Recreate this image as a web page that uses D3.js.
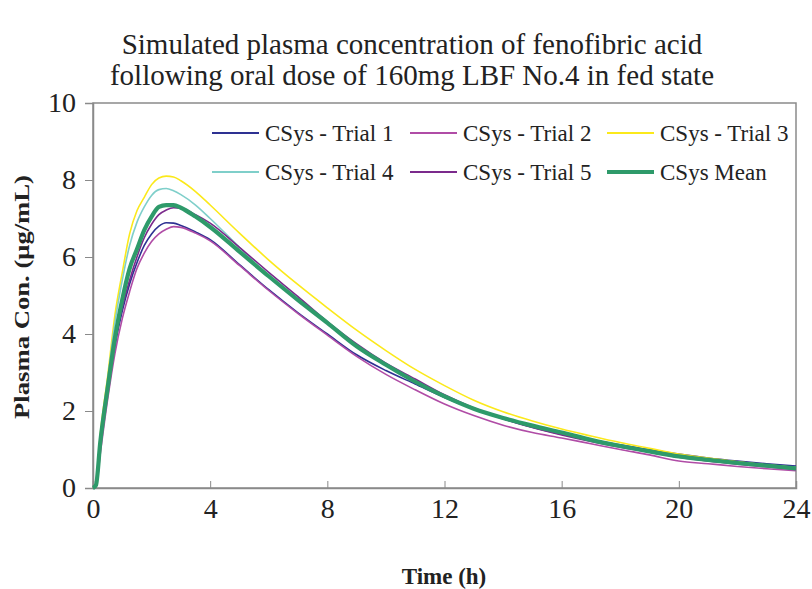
<!DOCTYPE html>
<html><head><meta charset="utf-8">
<script src="https://cdn.jsdelivr.net/npm/d3@7/dist/d3.min.js"></script>
<style>body{margin:0;background:#fff}svg{display:block}</style>
</head><body><svg id="c" width="812" height="589"></svg>
<script>
const times = [0,0.1,0.25,0.5,0.75,1,1.25,1.5,1.75,2,2.25,2.5,2.75,3,3.5,4,5,6,7,8,9,10,11,12,13,14,15,16,17,18,19,20,21,22,23,24];
const trial1 = [0,0.05,1.1,2.5,3.7,4.6,5.3,5.85,6.3,6.6,6.8,6.89,6.88,6.82,6.65,6.45,5.8,5.15,4.55,4.0,3.46,3.05,2.7,2.35,2.05,1.8,1.58,1.4,1.25,1.12,0.99,0.88,0.78,0.7,0.63,0.57];
const trial2 = [0,0.03,0.9,2.3,3.5,4.4,5.1,5.7,6.1,6.4,6.6,6.72,6.79,6.77,6.62,6.42,5.78,5.13,4.53,3.97,3.42,2.95,2.55,2.18,1.88,1.63,1.44,1.3,1.15,1.0,0.86,0.7,0.63,0.56,0.5,0.45];
const trial3 = [0,0.1,1.4,2.9,4.5,5.6,6.6,7.2,7.55,7.88,8.05,8.1,8.08,7.98,7.7,7.35,6.62,5.92,5.28,4.68,4.1,3.57,3.08,2.66,2.28,1.98,1.74,1.53,1.35,1.18,1.03,0.88,0.78,0.68,0.6,0.53];
const trial4 = [0,0.1,1.3,2.8,4.3,5.4,6.3,6.9,7.3,7.6,7.75,7.78,7.72,7.62,7.35,7.0,6.25,5.5,4.9,4.3,3.7,3.2,2.77,2.4,2.07,1.8,1.58,1.4,1.23,1.08,0.95,0.82,0.72,0.63,0.56,0.49];
const trial5 = [0,0.05,1.1,2.5,3.8,4.7,5.4,6.0,6.5,6.85,7.1,7.22,7.28,7.27,7.1,6.88,6.25,5.6,4.97,4.32,3.74,3.24,2.83,2.42,2.08,1.8,1.57,1.38,1.21,1.06,0.93,0.8,0.7,0.62,0.55,0.48];
const mean  = [0,0.07,1.2,2.6,3.9,4.9,5.7,6.2,6.7,7.05,7.3,7.35,7.35,7.28,7.05,6.78,6.14,5.5,4.88,4.29,3.68,3.2,2.76,2.38,2.06,1.82,1.62,1.44,1.25,1.09,0.95,0.82,0.73,0.65,0.58,0.51];
const seriesNames = ["CSys - Trial 1","CSys - Trial 2","CSys - Trial 3","CSys - Trial 4","CSys - Trial 5","CSys Mean"];
const seriesValues = [trial1,trial2,trial3,trial4,trial5,mean];
const colors = ["#2e3192","#b04ca6","#fbe91b","#7fcfca","#7b2a8c","#2e9a6a"];
const widths = [1.6,1.6,1.6,1.6,1.6,4.2];
const xTicks = [0,4,8,12,16,20,24];
const yTicks = [0,2,4,6,8,10];
const titleLines = ["Simulated plasma concentration of fenofibric acid","following oral dose of 160mg LBF No.4 in fed state"];

const svg = d3.select("#c");
const L=93,R=796,T=103,B=488;
const x = d3.scaleLinear().domain([0,24]).range([L,R]);
const y = d3.scaleLinear().domain([0,10]).range([B,T]);
const serif = "'Liberation Serif','Times New Roman',serif";

svg.selectAll("text.title").data(titleLines).join("text")
  .attr("x",412).attr("y",(d,i)=>54+i*31).attr("text-anchor","middle")
  .attr("font-family",serif).attr("font-size",29).attr("fill","#222").text(d=>d);

// frame
svg.append("rect").attr("x",L).attr("y",T).attr("width",R-L).attr("height",B-T)
  .attr("fill","none").attr("stroke","#8a8a8a").attr("stroke-width",1.5);

// y axis
const ya = svg.append("g").attr("transform",`translate(${L},0)`)
  .call(d3.axisLeft(y).tickValues(yTicks).tickSize(8).tickPadding(9).tickFormat(d3.format("d")));
ya.select(".domain").attr("stroke","#8a8a8a").attr("stroke-width",1.5);
ya.selectAll(".tick line").attr("stroke","#8a8a8a");
ya.selectAll("text").attr("font-family",serif).attr("font-size",28).attr("fill","#222");

// x axis
const xa = svg.append("g").attr("transform",`translate(0,${B})`)
  .call(d3.axisBottom(x).tickValues(xTicks).tickSize(-7).tickPadding(10).tickFormat(d3.format("d")));
xa.select(".domain").attr("stroke","#8a8a8a").attr("stroke-width",1.5);
xa.selectAll(".tick line").attr("stroke","#8a8a8a");
xa.selectAll("text").attr("font-family",serif).attr("font-size",28).attr("fill","#222");

svg.append("text").attr("transform","translate(29,297) rotate(-90)").attr("text-anchor","middle")
  .attr("font-family",serif).attr("font-weight","bold").attr("font-size",22).attr("fill","#222")
  .attr("textLength",244).attr("lengthAdjust","spacingAndGlyphs")
  .text("Plasma Con. (μg/mL)");
svg.append("text").attr("x",444).attr("y",584).attr("text-anchor","middle")
  .attr("font-family",serif).attr("font-weight","bold").attr("font-size",23).attr("fill","#222")
  .text("Time (h)");

const line = d3.line().x((d,i)=>x(times[i])).y(d=>y(d)).curve(d3.curveMonotoneX);
const g = svg.append("g");
seriesValues.forEach((vals,k)=>{
  g.append("path").attr("d",line(vals)).attr("fill","none")
    .attr("stroke",colors[k]).attr("stroke-width",widths[k]).attr("stroke-linejoin","round");
});

// legend
const lx=[212,410,607], ly=[133,172];
seriesNames.forEach((n,k)=>{
  const cx=lx[k%3], cy=ly[Math.floor(k/3)];
  svg.append("line").attr("x1",cx).attr("x2",cx+47).attr("y1",cy).attr("y2",cy)
    .attr("stroke",colors[k]).attr("stroke-width",k===5?4:2);
  svg.append("text").attr("x",cx+53).attr("y",cy+8).attr("font-family",serif)
    .attr("font-size",23).attr("fill","#222").text(n);
});
</script></body></html>
